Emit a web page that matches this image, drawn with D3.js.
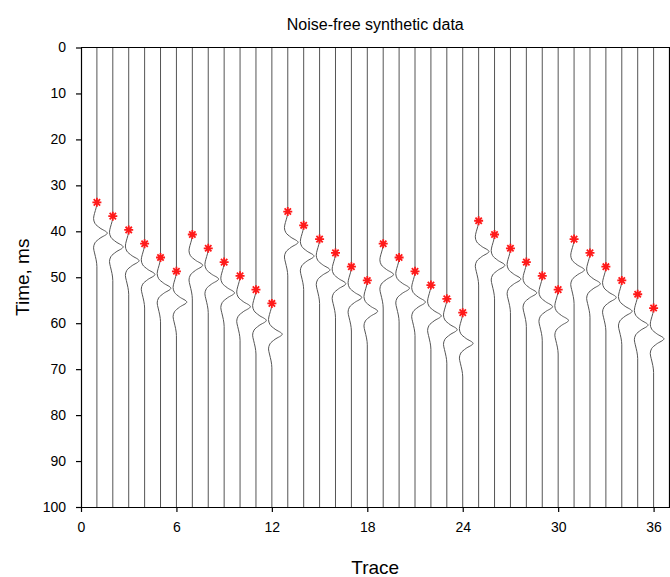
<!DOCTYPE html>
<html>
<head>
<meta charset="utf-8">
<script src="https://cdn.jsdelivr.net/npm/d3@7"></script>
<style>
  body { margin: 0; background: #fff; }
  text { font-family: "Liberation Sans", Arial, sans-serif; fill: #000; }
</style>
</head>
<body>
<svg id="chart" width="670" height="577"></svg>
<script>
// Trace numbers and first-break picks (ms)
const traces = d3.range(1, 37);
const picks = [
  33.7, 36.7, 39.7, 42.7, 45.7, 48.7,
  40.7, 43.7, 46.7, 49.7, 52.7, 55.7,
  35.7, 38.7, 41.7, 44.7, 47.7, 50.7,
  42.7, 45.7, 48.7, 51.7, 54.7, 57.7,
  37.7, 40.7, 43.7, 46.7, 49.7, 52.7,
  41.7, 44.7, 47.7, 50.7, 53.7, 56.7
];

// Wavelet shape: time after pick (ms) and deflection (trace units)
const waveOffsets = [0, 1.2, 2.4, 3.5, 4.6, 5.6, 6.7, 7.8, 8.8, 9.9, 11.0, 12.5, 14.0];
const waveAmps    = [0, -0.05, -0.15, -0.21, -0.12, 0.2, 0.65, 0.2, -0.12, -0.21, -0.15, -0.05, 0];

const xTicks = [0, 6, 12, 18, 24, 30, 36];
const yTicks = d3.range(0, 101, 10);

const width = 670, height = 577;
const margin = { top: 47.5, right: 0.5, bottom: 70, left: 81 };

const svg = d3.select("#chart");

const xScale = d3.scaleLinear().domain([0, 37]).range([margin.left, width - margin.right]);
const yScale = d3.scaleLinear().domain([0, 100]).range([margin.top, height - margin.bottom]);
const unit = xScale(1) - xScale(0);

// Traces
const line = d3.line()
  .x(d => d[0])
  .y(d => yScale(d[1]))
  .curve(d3.curveMonotoneY);

svg.append("g")
  .selectAll("path")
  .data(traces)
  .join("path")
  .attr("d", (t, i) => {
    const x0 = xScale(t);
    const pts = [[x0, 0]];
    waveOffsets.forEach((o, j) => pts.push([x0 + waveAmps[j] * unit, picks[i] + o]));
    pts.push([x0, 100]);
    return line(pts);
  })
  .attr("fill", "none")
  .attr("stroke", "#555")
  .attr("stroke-width", 1);

// Frame (top and right)
svg.append("path")
  .attr("d", `M${xScale(0)},${yScale(0)}H${xScale(37)}V${yScale(100)}`)
  .attr("fill", "none")
  .attr("stroke", "#000")
  .attr("stroke-width", 1.2);

// Axes
const bottomAxis = d3.axisBottom(xScale).tickValues(xTicks).tickSize(5).tickPadding(10).tickSizeOuter(0);
svg.append("g")
  .attr("transform", `translate(0,${yScale(100)})`)
  .call(bottomAxis)
  .call(g => g.selectAll("text").attr("font-size", 14))
  .call(g => g.selectAll("line, path").attr("stroke", "#000").attr("stroke-width", 1.2));

const leftAxis = d3.axisLeft(yScale).tickValues(yTicks).tickSize(5).tickPadding(10).tickSizeOuter(0);
svg.append("g")
  .attr("transform", `translate(${xScale(0)},0)`)
  .call(leftAxis)
  .call(g => g.selectAll("text").attr("font-size", 14))
  .call(g => g.selectAll("line, path").attr("stroke", "#000").attr("stroke-width", 1.2));

// Picks as red asterisks
const star = (r) => {
  const p = d3.path();
  for (let k = 0; k < 4; k++) {
    const a = k * Math.PI / 4;
    p.moveTo(-r * Math.cos(a), -r * Math.sin(a));
    p.lineTo(r * Math.cos(a), r * Math.sin(a));
  }
  return p.toString();
};

svg.append("g")
  .selectAll("path")
  .data(traces)
  .join("path")
  .attr("transform", (t, i) => `translate(${xScale(t)},${yScale(picks[i])})`)
  .attr("d", star(4.5))
  .attr("stroke", "#ff1a1a")
  .attr("stroke-width", 1.8)
  .attr("fill", "none");

// Title and labels
svg.append("text")
  .text("Noise-free synthetic data")
  .attr("x", (xScale(0) + xScale(37)) / 2)
  .attr("y", 30)
  .attr("text-anchor", "middle")
  .attr("font-size", 16);

svg.append("text")
  .text("Trace")
  .attr("x", (xScale(0) + xScale(37)) / 2)
  .attr("y", 574)
  .attr("text-anchor", "middle")
  .attr("font-size", 19);

svg.append("text")
  .text("Time, ms")
  .attr("transform", `translate(29,${(yScale(0) + yScale(100)) / 2}) rotate(-90)`)
  .attr("text-anchor", "middle")
  .attr("font-size", 19);
</script>
</body>
</html>
